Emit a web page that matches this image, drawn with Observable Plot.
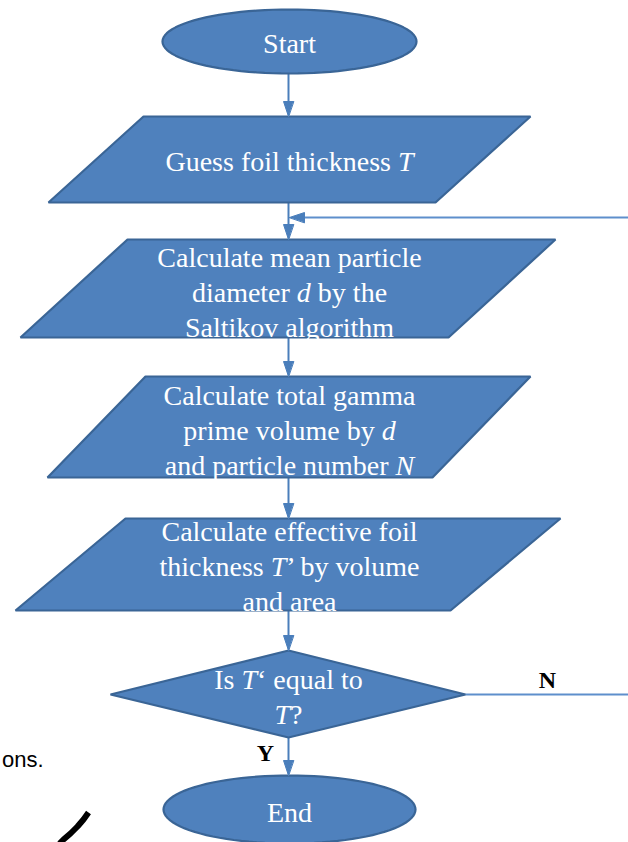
<!DOCTYPE html>
<html><head><meta charset="utf-8">
<script src="https://cdn.jsdelivr.net/npm/d3@7"></script>
<script src="https://cdn.jsdelivr.net/npm/@observablehq/plot@0.6"></script>
<style>html,body{margin:0;padding:0;background:#fff;overflow:hidden}#chart svg{display:block}</style>
</head><body><div id="chart"></div>
<script>
// ---- content (top to bottom); *…* marks italic symbols ----
const stepIds = ["start", "guess", "mean", "gamma", "effective", "check", "end"];
const stepShapes = ["ellipse", "data", "data", "data", "data", "decision", "ellipse"];
const stepLabels = [
  "Start",
  "Guess foil thickness *T*",
  "Calculate mean particle\ndiameter *d* by the\nSaltikov algorithm",
  "Calculate total gamma\nprime volume by *d*\nand particle number *N*",
  "Calculate effective foil\nthickness *T*’ by volume\nand area",
  "Is *T*‘ equal to\n*T*?",
  "End"
];
const branchLabels = ["Y", "N"];
const marginLabels = ["ons."];

// ---- layout (page pixel units) ----
const stepCx   = [289, 289, 289, 289, 289, 288, 289];
const stepTop  = [9, 116, 239, 376, 518, 650, 775];
const stepBot  = [73, 202, 337, 477, 610, 737, 843];
const stepX0   = [162, 143, 127, 145, 125, 110, 163];   // top-left (data) / left extent
const stepX1   = [416, 530, 555, 530, 560, 465, 415];   // top-right (data) / right extent
const stepSkew = [0, 95, 107, 98, 110, 0, 0];
const stepTextY = [41, 159, 290, 428, 564, 695, 810];
const branchX = [265, 547];
const branchY = [753, 680];
const penStroke = [[88, 812], [83, 819], [77, 826], [70, 833], [63, 839], [59, 843]];

const FILL = "#4F81BD", EDGE = "#3A6596", LINK = "#4A7EBB", LOOP = "#5E8FCC";

// ---- shape outlines ----
const outlines = [];
stepIds.forEach((id, i) => {
  const t = stepTop[i], b = stepBot[i], x0 = stepX0[i], x1 = stepX1[i];
  let pts;
  if (stepShapes[i] === "ellipse") {
    const cx = (x0 + x1) / 2, cy = (t + b) / 2, rx = (x1 - x0) / 2, ry = (b - t) / 2;
    pts = d3.range(0, 96).map(k => {
      const a = (k / 96) * 2 * Math.PI;
      return [cx + rx * Math.cos(a), cy + ry * Math.sin(a)];
    });
  } else if (stepShapes[i] === "data") {
    const s = stepSkew[i];
    pts = [[x0, t], [x1, t], [x1 - s, b], [x0 - s, b]];
  } else {
    const cx = stepCx[i], my = (t + b) / 2 + 0.5;
    pts = [[x0, my], [cx, t], [x1, my], [cx, b]];
  }
  pts.forEach(([x, y]) => outlines.push({id, x, y}));
});

// ---- connectors between consecutive steps ----
const links = [];
const heads = [];
const AX = 288;
for (let i = 0; i < stepIds.length - 1; i++) {
  links.push({x1: AX, y1: stepBot[i], x2: AX, y2: stepTop[i + 1] - 2});
  const ty = stepTop[i + 1];
  [[AX, ty], [AX - 5, ty - 15], [AX + 5, ty - 15]].forEach(([x, y]) => heads.push({id: "h" + i, x, y}));
}
// loop back from the decision ("N") to the mean-diameter step
const loopY = 217, noY = 694;
const loops = [
  {x1: stepX1[5], y1: noY, x2: 628, y2: noY},
  {x1: 628, y1: loopY, x2: AX + 12, y2: loopY}
];
[[AX + 1, loopY], [AX + 16, loopY - 5], [AX + 16, loopY + 5]].forEach(([x, y]) => heads.push({id: "loop", x, y}));

const labels = stepIds.map((id, i) => ({x: stepCx[i], y: stepTextY[i], text: stepLabels[i]}));
const branches = branchLabels.map((t, i) => ({x: branchX[i], y: branchY[i], text: t}));
const pen = penStroke.map(([x, y]) => ({x, y}));

const chart = Plot.plot({
  width: 628, height: 842, margin: 0,
  x: {type: "linear", domain: [0, 628], range: [0, 628], axis: null},
  y: {type: "linear", domain: [0, 842], range: [0, 842], axis: null},
  style: {background: "white", overflow: "hidden"},
  marks: [
    Plot.link(links, {x1: "x1", y1: "y1", x2: "x2", y2: "y2", stroke: LINK, strokeWidth: 2}),
    Plot.link(loops, {x1: "x1", y1: "y1", x2: "x2", y2: "y2", stroke: LOOP, strokeWidth: 2.2}),
    Plot.line(outlines, {x: "x", y: "y", z: "id", curve: "linear-closed", fill: FILL, stroke: EDGE, strokeWidth: 2.2, strokeLinejoin: "miter"}),
    Plot.line(heads, {x: "x", y: "y", z: "id", curve: "linear-closed", fill: LINK, stroke: LINK, strokeWidth: 1}),
    Plot.text(labels, {x: "x", y: "y", text: "text", fill: "white", fontSize: 28, fontFamily: "Liberation Serif", lineHeight: 1.25, lineAnchor: "middle"}),
    Plot.text(branches, {x: "x", y: "y", text: "text", fill: "black", fontSize: 24, fontWeight: "bold", fontFamily: "Liberation Serif"}),
    Plot.text(marginLabels, {x: 43, y: 759, text: d => d, fill: "black", fontSize: 22, fontFamily: "Liberation Sans", textAnchor: "end"}),
    Plot.line(pen, {x: "x", y: "y", stroke: "black", strokeWidth: 6, strokeLinecap: "butt"})
  ]
});

// italic symbols: convert *…* to italic tspans
const NS = "http://www.w3.org/2000/svg";
function italicize(el) {
  const s = el.textContent;
  if (!s.includes("*")) return;
  const parts = s.split("*");
  el.textContent = "";
  parts.forEach((p, i) => {
    if (!p) return;
    if (i % 2) {
      const t = document.createElementNS(NS, "tspan");
      t.setAttribute("font-style", "italic");
      t.textContent = p;
      el.appendChild(t);
    } else el.appendChild(document.createTextNode(p));
  });
}
chart.querySelectorAll("text").forEach(t => {
  const ts = t.querySelectorAll(":scope > tspan");
  if (ts.length) ts.forEach(italicize); else italicize(t);
});
document.getElementById("chart").appendChild(chart);
</script>
</body></html>
